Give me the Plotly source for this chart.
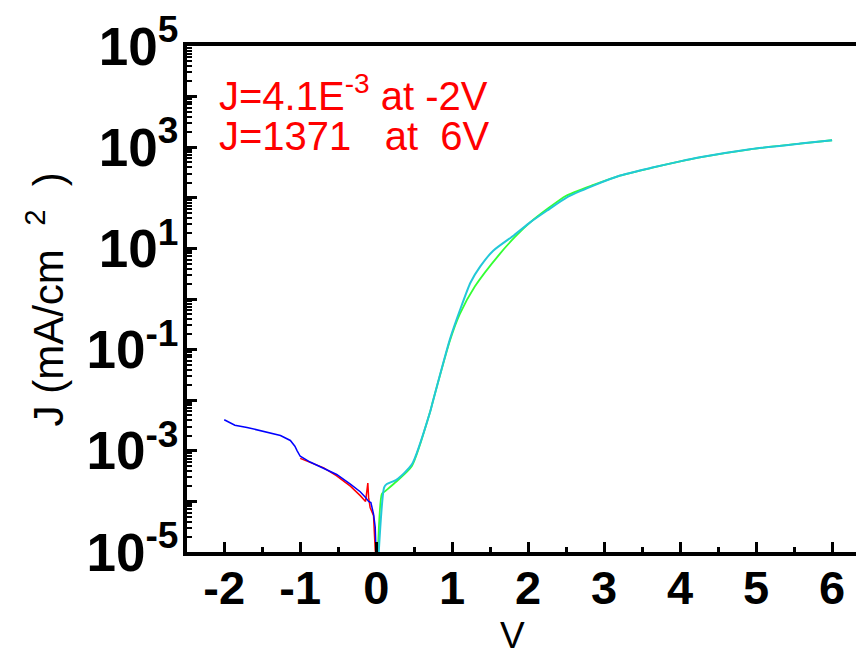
import plotly.graph_objects as go

# ---- data ----
v_red = [-1.0, -0.85, -0.69, -0.52, -0.34, -0.21, -0.14, -0.11, -0.10, -0.08, -0.035, -0.013, 0.0]
j_red = [7.1e-4, 5.8e-4, 4.6e-4, 3.2e-4, 2.0e-4, 1.3e-4, 1.0e-4, 2.3e-4, 1.2e-4, 7.6e-5, 5.2e-5, 1.1e-5, 8e-6]

v_blue = [-2.0, -1.86, -1.70, -1.53, -1.39, -1.26, -1.13, -1.07, -1.04, -1.0, -0.87, -0.69,
          -0.52, -0.34, -0.21, -0.14, -0.10, -0.07, -0.035, -0.013, 0.0]
j_blue = [4.1e-3, 3.2e-3, 2.9e-3, 2.5e-3, 2.24e-3, 2.0e-3, 1.6e-3, 1.23e-3, 1.0e-3, 7.8e-4, 6.0e-4, 4.5e-4,
          3.4e-4, 2.2e-4, 1.55e-4, 1.2e-4, 1.0e-4, 9.5e-5, 5.6e-5, 3.1e-5, 8e-6]

v_green = [0.02, 0.075, 0.12, 0.27, 0.47, 0.71, 0.75, 0.97, 1.10, 1.30, 1.63, 1.83, 2.03, 2.25,
           2.50, 2.86, 3.21, 3.65, 4.0, 4.26, 4.92, 5.58, 6.0]
j_green = [8e-6, 1.4e-4, 1.6e-4, 2.5e-4, 5.0e-4, 5.9e-3, 1.0e-2, 0.15, 0.5, 1.78, 7.9, 17, 33, 60,
           110, 180, 275, 400, 525, 630, 910, 1180, 1371]

v_cyan = [0.03, 0.105, 0.14, 0.27, 0.47, 0.71, 0.75, 0.97, 1.105, 1.24, 1.37, 1.54, 1.81, 2.03,
          2.25, 2.51, 2.86, 3.21, 3.65, 4.0, 4.26, 4.92, 5.58, 6.0]
j_cyan = [8e-6, 1.9e-4, 2.2e-4, 2.7e-4, 5.4e-4, 5.9e-3, 1.0e-2, 0.16, 0.62, 2.1, 4.4, 9.0, 18, 33,
          56, 102, 174, 275, 400, 525, 630, 910, 1180, 1371]

x_ticks = [-2, -1, 0, 1, 2, 3, 4, 5, 6]
x_minor = [-2.5, -1.5, -0.5, 0.5, 1.5, 2.5, 3.5, 4.5, 5.5]
y_exps = list(range(-5, 6))
y_ticktext = ["10<sup>%d</sup>" % e if e % 2 != 0 else "" for e in y_exps]

fig = go.Figure()
fig.add_trace(go.Scatter(x=v_red, y=j_red, mode="lines", line=dict(color="#FF0000", width=1.5)))
fig.add_trace(go.Scatter(x=v_blue, y=j_blue, mode="lines", line=dict(color="#0000FF", width=1.5)))
fig.add_trace(go.Scatter(x=v_green, y=j_green, mode="lines",
                         line=dict(color="#33FF33", width=1.8, shape="spline", smoothing=0.6)))
fig.add_trace(go.Scatter(x=v_cyan, y=j_cyan, mode="lines",
                         line=dict(color="#22C8D8", width=2, shape="spline", smoothing=0.6)))

y_minor = [m * 10.0 ** e for e in range(-5, 5) for m in range(2, 10)]

FONT = "Liberation Sans, Arial, sans-serif"
xtickfont = dict(family=FONT, size=47, color="black", weight="bold")
ytickfont = dict(family=FONT, size=53, color="black", weight="bold")

# The page body has an 8px default margin: the figure is sized/offset to compensate.
fig.update_layout(
    width=856, height=649,
    margin=dict(l=179, r=0, t=33, b=105),
    paper_bgcolor="white", plot_bgcolor="white",
    showlegend=False,
    xaxis=dict(
        range=[-2.49, 6.42], showgrid=False, zeroline=False,
        showline=True, linecolor="black", linewidth=4, mirror=True,
        ticks="inside", ticklen=10, tickwidth=3, tickcolor="black",
        tickmode="array", tickvals=x_ticks, ticktext=[str(t) for t in x_ticks],
        tickfont=xtickfont, ticklabelstandoff=-8, ticklabeloverflow="allow",
        minor=dict(ticks="inside", ticklen=5, tickwidth=3, tickcolor="black",
                   tickmode="array", tickvals=x_minor),
    ),
    yaxis=dict(
        type="log", range=[-5, 5], showgrid=False, zeroline=False,
        showline=True, linecolor="black", linewidth=4, mirror=False,
        ticks="inside", ticklen=10, tickwidth=3, tickcolor="black",
        tickmode="array", tickvals=[10.0 ** e for e in y_exps], ticktext=y_ticktext,
        tickfont=ytickfont, ticklabelstandoff=-6, ticklabeloverflow="allow",
        minor=dict(ticks="inside", ticklen=5, tickwidth=2, tickcolor="black",
                   tickmode="array", tickvals=y_minor),
    ),
    annotations=[
        dict(text="J=4.1E<sup>-3</sup> at -2V", xref="paper", yref="paper",
             x=(217 - 187) / 677, y=(552 - 88) / 511, xanchor="left", yanchor="middle",
             showarrow=False, font=dict(family=FONT, size=40, color="red")),
        dict(text="J=1371&nbsp;&nbsp; at &nbsp;6V", xref="paper", yref="paper",
             x=(217 - 187) / 677, y=(552 - 132) / 511, xanchor="left", yanchor="middle",
             showarrow=False, font=dict(family=FONT, size=40, color="red")),
        dict(text="J (mA/cm&nbsp;&nbsp;<sup>2</sup>&nbsp;&nbsp;)", xref="paper", yref="paper",
             x=(46 - 187) / 677, y=(552 - 297) / 511, xanchor="center", yanchor="middle",
             textangle=-90, showarrow=False,
             font=dict(family=FONT, size=42, color="black")),
        dict(text="V", xref="paper", yref="paper",
             x=(512 - 187) / 677, y=(552 - 636) / 511, xanchor="center", yanchor="middle",
             showarrow=False, font=dict(family=FONT, size=37, color="black")),
    ],
)

fig.write_html("out.html")
